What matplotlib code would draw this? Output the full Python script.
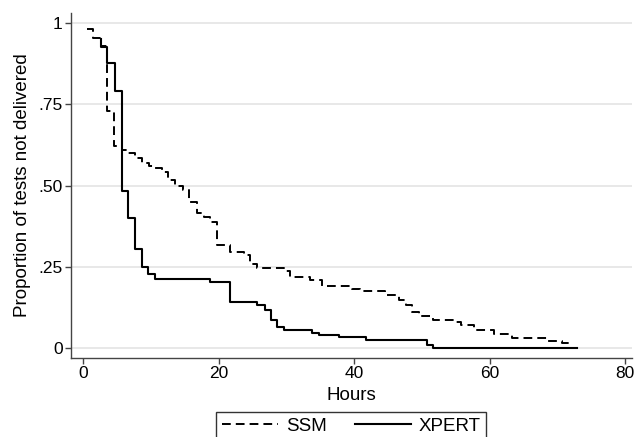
import numpy as np
import matplotlib
matplotlib.use('Agg')
import matplotlib.pyplot as plt

plt.rcParams['font.family'] = ['Liberation Sans', 'DejaVu Sans']

# SSM: step times (hours) and proportion not delivered
ssm_h = [0.6, 1.5, 2.6, 3.6, 4.6, 5.7, 6.7, 7.7, 8.7, 9.7, 10.6, 11.6, 12.6,
         13.6, 14.7, 15.7, 16.8, 17.8, 18.8, 19.7, 21.7, 23.7, 24.7, 25.7,
         29.6, 30.6, 33.5, 35.2, 39.7, 40.9, 44.6, 46.6, 47.6, 48.6, 49.5,
         51.7, 55.0, 55.7, 57.7, 60.6, 63.3, 68.5, 70.7, 71.8]
ssm_p = [0.98, 0.955, 0.93, 0.73, 0.62, 0.61, 0.60, 0.585, 0.57, 0.56, 0.553,
         0.543, 0.517, 0.50, 0.486, 0.45, 0.414, 0.402, 0.389, 0.317, 0.296,
         0.286, 0.26, 0.247, 0.237, 0.22, 0.209, 0.19, 0.182, 0.175, 0.163,
         0.148, 0.132, 0.112, 0.098, 0.088, 0.081, 0.071, 0.055, 0.045, 0.03,
         0.022, 0.016, 0.016]

# XPERT
xpert_h = [2.6, 2.6, 3.6, 4.7, 5.8, 6.7, 7.6, 8.7, 9.65, 10.6, 18.8, 21.7,
           25.7, 26.8, 27.7, 28.6, 29.6, 33.8, 34.8, 37.7, 41.8, 50.7, 51.7, 72.9]
xpert_p = [0.95, 0.925, 0.878, 0.79, 0.484, 0.399, 0.305, 0.25, 0.228, 0.214,
           0.202, 0.141, 0.134, 0.117, 0.088, 0.066, 0.055, 0.047, 0.04, 0.033,
           0.025, 0.009, 0.0, 0.0]

yticks = [0, 0.25, 0.5, 0.75, 1]
ytick_labels = ['0', '.25', '.50', '.75', '1']
xticks = [0, 20, 40, 60, 80]

fig = plt.figure(figsize=(6.34, 4.37), dpi=100)
ax = fig.add_axes([0.112, 0.181, 0.885, 0.789])

ax.plot(ssm_h, ssm_p, drawstyle='steps-post', color='black', lw=1.4,
        dashes=(4.5, 2.6), label='SSM')
ax.plot(xpert_h, xpert_p, drawstyle='steps-post', color='black', lw=1.5,
        label='XPERT')

ax.set_xlim(-1.77, 81)
ax.set_ylim(-0.03, 1.03)
ax.set_yticks(yticks)
ax.set_yticklabels(ytick_labels)
ax.set_xticks(xticks)
ax.yaxis.grid(True, color='#e4e4e4', lw=1.2)
ax.set_axisbelow(True)
for s in ['top', 'right']:
    ax.spines[s].set_visible(False)
for s in ['left', 'bottom']:
    ax.spines[s].set_color('#444444')
    ax.spines[s].set_linewidth(1.0)
ax.tick_params(direction='out', length=4, width=1, color='#444444',
               labelsize=12.5, pad=2)
ax.set_xlabel('Hours', fontsize=13.5, labelpad=4)
ax.set_ylabel('Proportion of tests not delivered', fontsize=13.5, labelpad=5)

leg = fig.legend(loc='upper center', bbox_to_anchor=(0.554, 0.057), ncol=2,
                 fontsize=13.5, frameon=True, fancybox=False, handlelength=3.0,
                 handletextpad=0.4, columnspacing=1.5, borderpad=0.3,
                 borderaxespad=0.0)
leg.get_frame().set_edgecolor('black')
leg.get_frame().set_linewidth(1.0)

fig.savefig('out.png', dpi=100)
